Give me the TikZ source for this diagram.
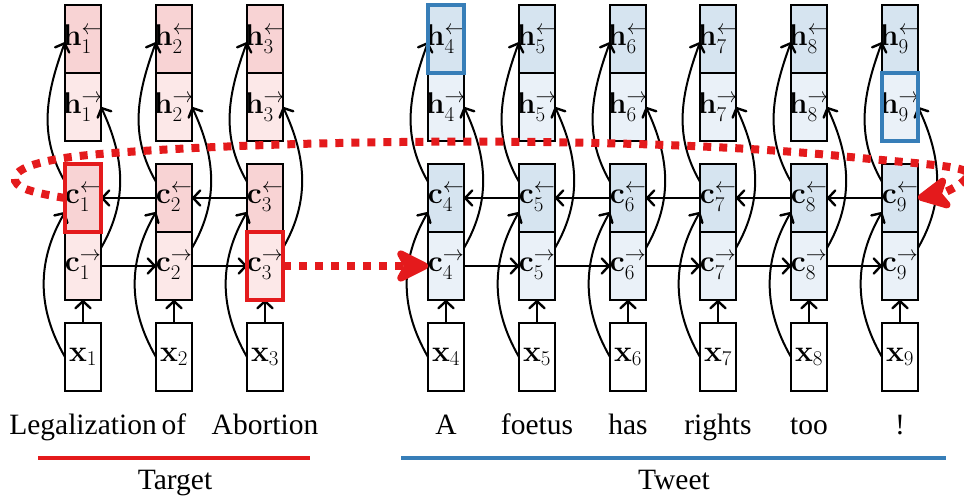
\RequirePackage{fix-cm}
\documentclass[tikz,border=0pt]{standalone}
\usepackage[no-math]{fontspec}
\newfontfamily\tnr{Liberation Serif}
\usetikzlibrary{arrows.meta}
\definecolor{rd}{HTML}{F8D3D4}
\definecolor{rl}{HTML}{FCE8E8}
\definecolor{bd}{HTML}{D6E4F0}
\definecolor{bl}{HTML}{EAF1F8}
\definecolor{myred}{HTML}{E41A1C}
\definecolor{myblue}{HTML}{377EB8}
\newcommand\boxlab[3]{\makebox[0pt]{$\mathbf{#1}^{#3}_{#2}$}}
\begin{document}
\begin{tikzpicture}[x=1pt,y=1pt,
  every node/.style={font=\fontsize{30}{35}\selectfont},
  cell/.style={draw=black, line width=2pt, minimum width=36pt, minimum height=68pt, inner sep=0pt, outer sep=0pt},
  arr/.style={line width=2pt, -{Straight Barb[length=7pt,width=15pt,line width=2.4pt,round]}},
  word/.style={font=\tnr\fontsize{29.5}{36}\selectfont, anchor=base, inner sep=0pt},
  hlred/.style={draw=myred, line width=4pt},
  hlblue/.style={draw=myblue, line width=4pt},
  reddot/.style={draw=myred, line width=8pt, dash pattern=on 8pt off 8pt},
  bigtip/.style={-{Stealth[length=40pt,width=40pt,inset=11pt,round]}}
]
\useasboundingbox (0,0) rectangle (964,-497);
\foreach \i/\X/\c in {1/83/r,2/174/r,3/265/r,4/446/b,5/537/b,6/628/b,7/718/b,8/809/b,9/900/b} {
  \node[cell, fill=\c d] (hl\i) at (\X,-39) {\boxlab{h}{\i}{\leftarrow}};
  \node[cell, fill=\c l] (hr\i) at (\X,-107) {\boxlab{h}{\i}{\rightarrow}};
  \node[cell, fill=\c d] (cl\i) at (\X,-198) {\boxlab{c}{\i}{\leftarrow}};
  \node[cell, fill=\c l] (cr\i) at (\X,-266) {\boxlab{c}{\i}{\rightarrow}};
  \node[cell, fill=white] (x\i) at (\X,-357) {\makebox[0pt]{$\mathbf{x}_{\i}$}};
  \draw[arr] (x\i) -- (cr\i);
  \draw[arr] (x\i.west) to[out=120,in=240] (cl\i.218);
  \draw[arr] (cr\i.45) to[out=60,in=-65] (hr\i.east);
  \draw[arr] (cl\i.138) to[out=120,in=250] (hl\i.190);
}
\foreach \i/\j in {1/2,2/3,4/5,5/6,6/7,7/8,8/9} {
  \draw[arr] (cr\i) -- (cr\j);
  \draw[arr] (cl\j) -- (cl\i);
}
% highlights
\draw[hlred] (cl1.south west) rectangle (cl1.north east);
\draw[hlred] (cr3.south west) rectangle (cr3.north east);
\draw[hlblue] (hl4.south west) rectangle (hl4.north east);
\draw[hlblue] (hr9.south west) rectangle (hr9.north east);
% red dotted connections
\draw[reddot, bigtip] (cr3.east) -- (cr4.west);
\draw[reddot, bigtip] (cl1.west) .. controls (35,-193) and (12,-188) .. (15,-177)
  .. controls (18,-166) and (50,-158) .. (100,-154)
  .. controls (300,-138) and (650,-136) .. (850,-157)
  .. controls (920,-164) and (968,-166) .. (968,-174)
  .. controls (968,-182) and (945,-193) .. (cl9.east);
% words
\node[word] (w1) at (83,-434) {Legalization};
\node[word] (w2) at (174,-434) {of};
\node[word] (w3) at (265,-434) {Abortion};
\node[word] (w4) at (446,-434) {A};
\node[word] (w5) at (537,-434) {foetus};
\node[word] (w6) at (628,-434) {has};
\node[word] (w7) at (718,-434) {rights};
\node[word] (w8) at (809,-434) {too};
\node[word] (w9) at (900,-434) {!};
\draw[myred, line width=3.5pt] (38,-458) -- (310,-458);
\draw[myblue, line width=3.5pt] (401,-458) -- (946,-458);
\node[word] (target) at (175,-489) {Target};
\node[word] (tweet) at (674,-489) {Tweet};
\end{tikzpicture}
\end{document}
